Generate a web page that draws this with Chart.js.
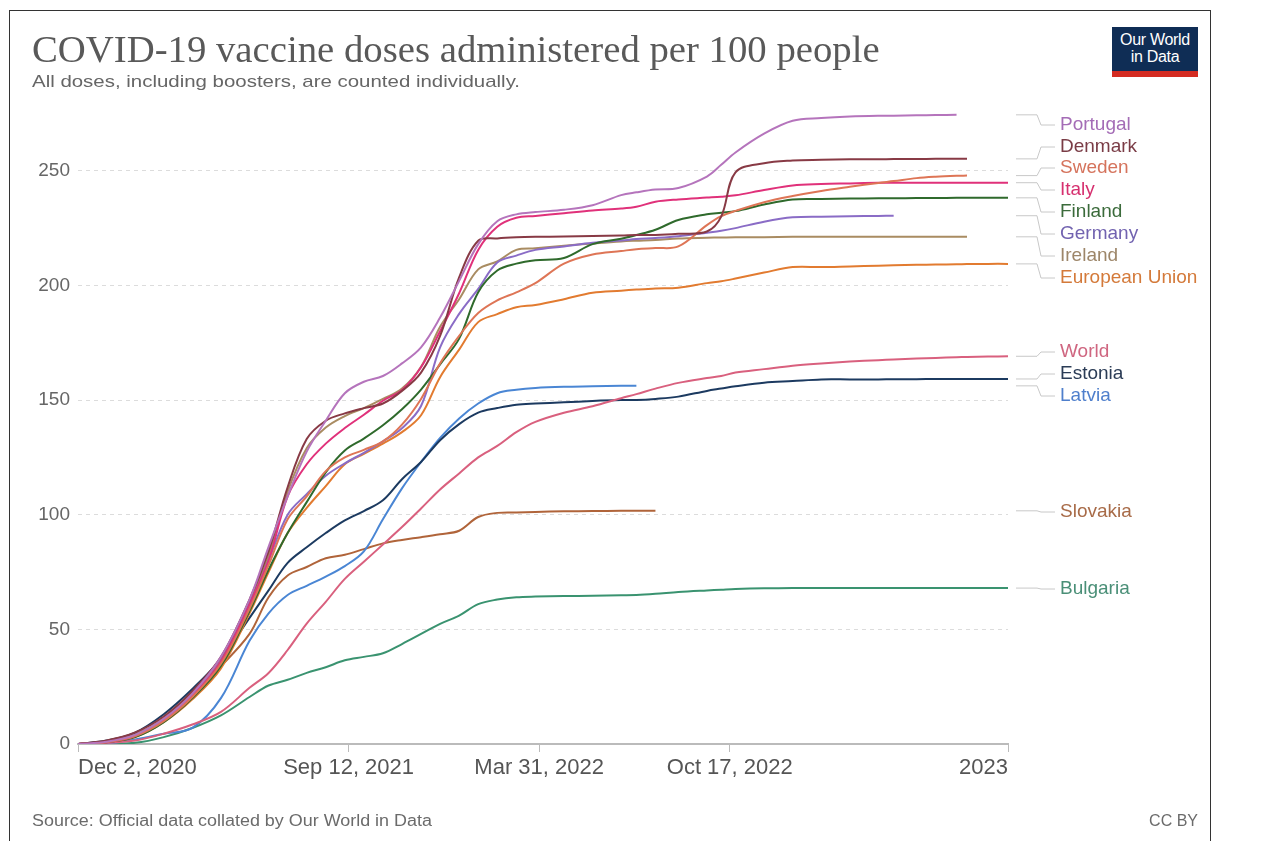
<!DOCTYPE html>
<html>
<head>
<meta charset="utf-8">
<script src="https://cdn.jsdelivr.net/npm/chart.js@4.4.0/dist/chart.umd.min.js"></script>
<style>
  html, body { margin: 0; padding: 0; background: #fff; }
  body { width: 1265px; height: 841px; position: relative; overflow: hidden; font-family: "Liberation Sans", Arial, sans-serif; }
  #frame { position: absolute; left: 9px; top: 10px; width: 1200px; height: 840px; border-left: 1.5px solid #333; border-top: 1.5px solid #333; border-right: 1.5px solid #333; }
  #chart { position: absolute; left: 0; top: 0; }
  .txt { position: absolute; white-space: nowrap; line-height: 1; transform-origin: left top; }
  #title { left: 32px; top: 31px; font-family: "Liberation Serif", serif; font-size: 37px; color: #595959; }
  #subtitle { left: 32px; top: 73px; font-size: 17px; color: #666; }
  #source { left: 32px; top: 813px; font-size: 16px; color: #6b6b6b; }
  #cc { right: 67px; top: 813px; font-size: 16px; color: #6b6b6b; }
  #logo { position: absolute; left: 1112px; top: 27px; width: 86px; height: 40px; background: #0f2d55; border-bottom: 6px solid #d42b21;
          color: #fff; font-size: 16px; line-height: 17px; text-align: center; padding-top: 4px; letter-spacing: -0.3px; }
</style>
</head>
<body>
<div id="frame"></div>
<canvas id="chart" width="1265" height="841"></canvas>
<div id="title" class="txt">COVID-19 vaccine doses administered per 100 people</div>
<div id="subtitle" class="txt">All doses, including boosters, are counted individually.</div>
<div id="logo">Our World<br>in Data</div>
<div id="source" class="txt">Source: Official data collated by Our World in Data</div>
<div id="cc" class="txt">CC BY</div>

<script>
// 日数（2020年12月2日からの経過日数）
const days = [0, 30, 60, 90, 120, 150, 180, 200, 220, 240, 260, 280, 300, 320, 340, 360, 380, 400, 420, 440, 460, 480,
  510, 540, 570, 586, 606, 630, 660, 675, 690, 720, 750, 780, 810, 840, 856, 880, 900, 922, 933, 955, 976];

// x軸ラベル
const xTickDays = [0, 284, 484, 684, 976];
const xTickLabels = ["Dec 2, 2020", "Sep 12, 2021", "Mar 31, 2022", "Oct 17, 2022", "2023"];
const yTicks = [0, 50, 100, 150, 200, 250];

// 国・地域名
const countries = ["Portugal", "Denmark", "Sweden", "Italy", "Finland", "Germany", "Ireland", "European Union",
  "World", "Estonia", "Latvia", "Slovakia", "Bulgaria"];

// 100人あたりの接種回数
const portugal = [0, 1, 4, 11, 22, 38, 63, 86, 108, 127.5, 141, 153, 158, 160.5, 166, 173, 186, 202, 218, 228, 231, 232,
  233, 235, 239.4, 240.6, 241.8, 242.5, 247.5, 252.6, 258, 266.2, 271.8, 273, 273.7, 274, 274, 274.2, 274.3, 274.4, null, null, null];
const denmark = [0, 1.5, 5, 12, 23, 38, 63, 84, 112, 133, 141, 144.2, 146.5, 148.5, 154, 162, 178, 203.5, 219.5, 220.5, 221, 221.2,
  221.3, 221.6, 221.8, 222, 222, 222.5, 223.5, 230, 249.3, 253.3, 254.5, 254.8, 255, 255, 255.1, 255.1, 255.2, 255.2, 255.2, null, null];
const sweden = [0, 0.8, 3.5, 10, 20.5, 35, 59, 78, 98, 108, 119, 125, 128.3, 132, 139.3, 150.5, 166, 178, 188, 193.5, 197, 201,
  209.5, 213.5, 215, 215.8, 216.3, 217, 226.3, 230.2, 232.5, 236.3, 239, 241.2, 243, 244.7, 245.5, 246.8, 247.4, 247.8, 247.9, null, null];
const italy = [0, 0.8, 3.5, 10.5, 21, 36, 61, 80, 108, 122, 131, 137.8, 143.6, 149.7, 154.4, 164.3, 180, 196.6, 215.5, 225.6, 229.5, 230.3,
  231.5, 232.7, 233.5, 234.3, 236.5, 237.5, 238.3, 238.7, 239.3, 241.6, 243.6, 244.2, 244.5, 244.8, 244.8, 244.8, 244.8, 244.8, 244.8, 244.8, 244.8];
const finland = [0, 0.8, 3, 9.5, 20, 34, 58, 76, 92, 105.5, 118.5, 128, 133.2, 139, 146, 154.6, 165.6, 176.8, 197, 206.5, 209.5, 211,
  212, 218, 220.4, 222, 224.3, 228.5, 231, 231.7, 232.4, 235.3, 237.5, 237.7, 237.9, 238, 238, 238.1, 238.1, 238.2, 238.2, 238.2, 238.2];
const germany = [0, 0.8, 3.5, 10.5, 21, 36, 60, 80, 100, 109, 117, 122.4, 127, 132, 137.7, 147.4, 173, 187.6, 198.5, 210, 213, 215.5,
  217, 218.6, 219.6, 220.2, 220.7, 221.5, 223, 223.8, 225, 227.8, 229.7, 230, 230.2, 230.3, 230.4, null, null, null, null, null, null];
const ireland = [0, 1, 4, 11, 22, 37, 62, 82, 110, 129, 138, 143, 146.5, 150.5, 155, 164.5, 182, 194, 207, 210.5, 215.5, 216.2,
  217.3, 218.3, 219.2, 219.5, 219.8, 220.5, 220.8, 220.9, 221, 221, 221.2, 221.2, 221.2, 221.2, 221.2, 221.2, 221.2, 221.2, 221.2, null, null];
const europeanUnion = [0, 0.8, 3, 9.5, 19.5, 33, 57, 75, 92, 103, 112.5, 122, 126.5, 131, 136, 143.4, 160, 172, 184, 187.5, 190.5, 191.5,
  194, 196.8, 197.7, 198.2, 198.7, 199, 201, 201.8, 203, 205.6, 208, 208, 208.3, 208.6, 208.8, 209, 209.1, 209.2, 209.3, 209.4, 209.4];
const world = [0, 0.5, 1.5, 4.5, 8.5, 14, 24.5, 31, 41, 52.5, 62, 72, 79.5, 87, 94.6, 102.7, 111, 118, 125, 130, 136, 140.5,
  144.5, 147.3, 150.8, 152.6, 155, 157.5, 159.6, 160.5, 162, 163.5, 165, 166, 166.8, 167.4, 167.7, 168.1, 168.4, 168.7, 168.8, 169, 169.1];
const estonia = [0, 1.5, 5, 13, 24, 37, 55, 67, 79, 85.8, 92, 97.5, 101.6, 106.3, 115.5, 123, 132.5, 139.5, 144.5, 146.5, 148, 148.5,
  149, 149.6, 150, 150, 150.5, 151.5, 154, 155, 156, 157.6, 158.3, 159, 159, 159, 159.1, 159.1, 159.2, 159.2, 159.2, 159.2, 159.2];
const latvia = [0, 0.2, 2, 4.5, 7, 20, 45, 57, 65, 69, 73, 77.6, 84, 98, 111.5, 123, 133.5, 142, 148.5, 153, 154.5, 155.3,
  155.8, 156, 156.2, 156.2, null, null, null, null, null, null, null, null, null, null, null, null, null, null, null, null, null];
const slovakia = [0, 0.8, 4, 11, 22, 34, 48, 64, 73.5, 77.2, 81, 82.5, 85, 87.5, 89, 90.2, 91.5, 93, 99, 100.8, 101, 101.2,
  101.5, 101.6, 101.7, 101.7, 101.7, null, null, null, null, null, null, null, null, null, null, null, null, null, null, null, null];
const bulgaria = [0, 0.2, 0.5, 3, 7, 12.5, 20.5, 25.5, 28, 31, 33.5, 36.5, 38, 39.6, 43.6, 48, 52.4, 56, 61, 63, 64, 64.3,
  64.5, 64.7, 64.9, 65, 65.5, 66.3, 67, 67.3, 67.6, 67.9, 68, 68, 68, 68, 68, 68, 68, 68, 68, 68, 68];

const seriesValues = [portugal, denmark, sweden, italy, finland, germany, ireland, europeanUnion,
  world, estonia, latvia, slovakia, bulgaria];

// 色
const lineColors = ["#b574bc", "#883a45", "#de7556", "#e0317a", "#2f6a2c", "#8a6cc6", "#a98c62", "#e27b30",
  "#d9607e", "#1c3a60", "#4a86d4", "#b0643a", "#3a9370"];
const labelColors = ["#a46cb6", "#7a3c46", "#d5735c", "#d6306f", "#3b6b3b", "#7263b0", "#9d8669", "#d47a3a",
  "#cf6680", "#2b3c56", "#4f7fcc", "#a86b48", "#4a8f77"];

// ラベルの縦位置（レイアウト用）
const labelY = [125, 147, 168, 190, 212, 234, 256, 278, 352, 374, 396, 512, 589];

const datasets = countries.map((name, i) => ({
  label: name,
  data: days.map((d, j) => ({ x: d, y: seriesValues[i][j] })),
  borderColor: lineColors[i],
  borderWidth: 2,
  pointRadius: 0,
  tension: 0.35,
  spanGaps: false,
  fill: false
}));

// 右側のラベルと引き出し線
const endLabels = {
  id: "endLabels",
  afterDatasetsDraw(chart) {
    const ctx = chart.ctx;
    const yScale = chart.scales.y;
    ctx.save();
    countries.forEach((name, i) => {
      const vals = seriesValues[i];
      let last = null;
      for (let j = vals.length - 1; j >= 0; j--) {
        if (vals[j] !== null) { last = vals[j]; break; }
      }
      const y0 = yScale.getPixelForValue(last);
      const y1 = labelY[i];
      ctx.strokeStyle = "#c8c8c8";
      ctx.lineWidth = 1;
      ctx.beginPath();
      ctx.moveTo(1016, y0);
      ctx.lineTo(1037, y0);
      ctx.lineTo(1041, y1);
      ctx.lineTo(1055, y1);
      ctx.stroke();
      ctx.fillStyle = labelColors[i];
      ctx.font = '19px "Liberation Sans", Arial, sans-serif';
      ctx.textBaseline = "middle";
      ctx.textAlign = "left";
      ctx.fillText(name, 1060, y1);
    });
    ctx.restore();
  }
};

const chart = new Chart(document.getElementById("chart"), {
  type: "line",
  data: { datasets: datasets },
  options: {
    responsive: false,
    animation: false,
    devicePixelRatio: 1,
    layout: { padding: { left: 20, right: 257, top: 102, bottom: 57 } },
    plugins: { legend: { display: false }, tooltip: { enabled: false } },
    scales: {
      x: {
        type: "linear",
        min: 0,
        max: 976,
        afterFit: s => { s.height = 40; },
        afterBuildTicks: s => { s.ticks = xTickDays.map(v => ({ value: v })); },
        grid: { drawOnChartArea: false, drawTicks: true, tickLength: 8, color: "#bbb" },
        border: { display: true, color: "#bbb", width: 2 },
        ticks: {
          align: "inner",
          autoSkip: false,
          maxRotation: 0,
          padding: 3,
          color: "#555",
          font: { size: 22, family: '"Liberation Sans", Arial, sans-serif' },
          callback: v => xTickLabels[xTickDays.indexOf(v)]
        }
      },
      y: {
        min: 0,
        max: 280,
        afterFit: s => { s.width = 58; },
        afterBuildTicks: s => { s.ticks = yTicks.map(v => ({ value: v })); },
        grid: { drawTicks: false, color: "#dcdcdc" },
        border: { display: false, dash: [4, 4] },
        ticks: {
          padding: 8,
          color: "#666",
          font: { size: 19, family: '"Liberation Sans", Arial, sans-serif' }
        }
      }
    }
  },
  plugins: [endLabels]
});

// テキスト幅を元画像に合わせる
function fitWidth(id, w) {
  const el = document.getElementById(id);
  el.style.transform = `scaleX(${w / el.offsetWidth})`;
}
fitWidth("title", 848);
fitWidth("subtitle", 488);
fitWidth("source", 400);
</script>
</body>
</html>
